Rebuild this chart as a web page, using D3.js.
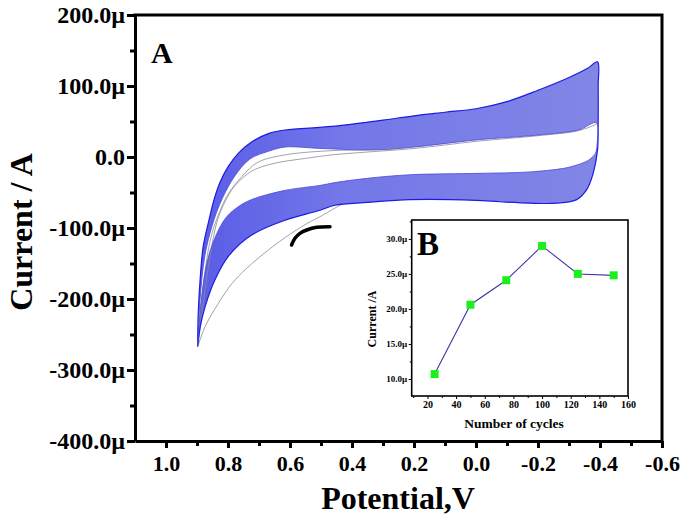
<!DOCTYPE html>
<html><head><meta charset="utf-8">
<script src="https://cdn.jsdelivr.net/npm/d3@7"></script>
<style>
body{margin:0;background:#fff}
svg{display:block}
text{font-family:"Liberation Serif","Times New Roman",serif;font-weight:bold;fill:#000}
</style>
</head><body>
<svg id="c" width="685" height="522"></svg>
<script>
// ---------- Main CV chart data (Potential V, Current µA) ----------
const potentialTicks = [1.0, 0.8, 0.6, 0.4, 0.2, 0.0, -0.2, -0.4, -0.6];
const potentialMinor = [0.9, 0.7, 0.5, 0.3, 0.1, -0.1, -0.3, -0.5];
const potentialLabels = ["1.0","0.8","0.6","0.4","0.2","0.0","-0.2","-0.4","-0.6"];
const currentTicks = [200, 100, 0, -100, -200, -300, -400];
const currentMinor = [150, 50, -50, -150, -250, -350];
const currentLabels = ["200.0\u00b5","100.0\u00b5","0.0","-100.0\u00b5","-200.0\u00b5","-300.0\u00b5","-400.0\u00b5"];

// last (largest) cycle: forward branch from 0.9 V to -0.4 V
const outerUpper = [[0.898,-267],[0.896,-220],[0.89,-173],[0.88,-126],[0.862,-90],[0.845,-60],[0.825,-35],[0.8,-14],[0.767,5],[0.724,21],[0.67,33],[0.616,38],[0.465,43],[0.3,52],[0.2,58],[0.1,63],[0,68],[-0.1,78],[-0.2,94],[-0.3,112],[-0.36,125],[-0.392,134]];
// last cycle: reverse branch back to 0.9 V
const outerLower = [[-0.392,134],[-0.394,100],[-0.394,50],[-0.392,10],[-0.378,-23],[-0.357,-46],[-0.325,-60],[-0.26,-65],[-0.174,-65],[-0.077,-63],[0,-61],[0.213,-60],[0.35,-64],[0.455,-68],[0.503,-75],[0.616,-89],[0.724,-110],[0.799,-140],[0.842,-173],[0.874,-211],[0.89,-240],[0.898,-267]];
// earliest blue cycle
const innerUpper = [[0.898,-267],[0.89,-200],[0.875,-140],[0.85,-95],[0.82,-60],[0.78,-28],[0.73,-3],[0.67,8],[0.616,14],[0.5,12],[0.32,10],[0.2,14],[0,24],[-0.2,31],[-0.33,38],[-0.388,48]];
const innerLower = [[-0.388,48],[-0.391,20],[-0.385,5],[-0.37,-2],[-0.357,-6],[-0.32,-12],[-0.282,-16],[-0.174,-21],[-0.013,-23],[0.213,-25],[0.35,-30],[0.455,-36],[0.503,-40],[0.616,-47],[0.724,-60],[0.767,-70],[0.804,-84],[0.831,-103],[0.863,-140],[0.885,-197],[0.898,-267]];
// first cycles (grey)
const firstScan = [[0.43,-66],[0.455,-72],[0.503,-84],[0.562,-98],[0.67,-131],[0.777,-173],[0.831,-206],[0.874,-239],[0.896,-265]];
const greyUpper1 = [[0.896,-265],[0.875,-190],[0.85,-120],[0.831,-85],[0.8,-55],[0.777,-40],[0.724,-20],[0.67,-11],[0.616,-6],[0.55,-2],[0.465,3],[0.35,7],[0.2,12],[0,22],[-0.2,30],[-0.33,37],[-0.388,46]];
const greyUpper2 = [[0.897,-266],[0.88,-180],[0.853,-110],[0.82,-70],[0.799,-52],[0.75,-25],[0.702,-7],[0.616,3],[0.465,9],[0.35,10],[0.25,13]];
const arrowPath = [[0.471,-98.2],[0.514,-99],[0.546,-102.8],[0.568,-107.5],[0.584,-114.5],[0.595,-124]];

// ---------- Inset data ----------
const cycles = [25, 50, 75, 100, 125, 150];
const peakCurrent = [10.7, 20.6, 24.1, 29.0, 25.0, 24.8];
const cycleTicks = [20, 40, 60, 80, 100, 120, 140, 160];
const cycleMinor = [10, 30, 50, 70, 90, 110, 130, 150];
const insetYTicks = [10, 15, 20, 25, 30];
const insetYMinor = [12.5, 17.5, 22.5, 27.5, 32.5];
const insetYLabels = ["10.0\u00b5","15.0\u00b5","20.0\u00b5","25.0\u00b5","30.0\u00b5"];

const svg = d3.select("#c");
const defs = svg.append("defs");
const grad = defs.append("linearGradient").attr("id", "bandGrad").attr("gradientUnits", "userSpaceOnUse")
  .attr("x1", 200).attr("y1", 0).attr("x2", 600).attr("y2", 0);
grad.append("stop").attr("offset", 0).attr("stop-color", "#5a5de6");
grad.append("stop").attr("offset", 0.35).attr("stop-color", "#7377e8");
grad.append("stop").attr("offset", 1).attr("stop-color", "#8286e6");

// ---------- main scales ----------
const x = d3.scaleLinear().domain([1.1, -0.6]).range([135, 662]);
const y = d3.scaleLinear().domain([-400, 200]).range([441, 15]);
const line = d3.line().x(d => x(d[0])).y(d => y(d[1])).curve(d3.curveCatmullRom.alpha(0.5));

const outerLoop = outerUpper.concat(outerLower.slice(1));
const innerLoop = innerUpper.concat(innerLower.slice(1));

const g = svg.append("g");
g.append("path").attr("d", line(outerLoop) + "Z" + line(innerLoop) + "Z")
  .attr("fill", "url(#bandGrad)").attr("fill-rule", "evenodd").attr("stroke", "none");
[greyUpper1, greyUpper2, firstScan].forEach(c => {
  g.append("path").attr("d", line(c)).attr("fill", "none").attr("stroke", "#8a8a9a").attr("stroke-width", 0.8);
});
g.append("path").attr("d", line(outerLoop)).attr("fill", "none").attr("stroke", "#1c1ce0").attr("stroke-width", 1.2);
g.append("path").attr("d", line(innerLoop)).attr("fill", "none").attr("stroke", "#4a4ad8").attr("stroke-width", 0.8);
g.append("path").attr("d", line(arrowPath)).attr("fill", "none").attr("stroke", "#000")
  .attr("stroke-width", 3.5).attr("stroke-linecap", "round");

// ---------- main axes ----------
const yAxis = d3.axisLeft(y).tickValues(currentTicks).tickSize(8).tickSizeOuter(0).tickPadding(2)
  .tickFormat((d, i) => currentLabels[i]);
const ya = svg.append("g").attr("transform", "translate(135,0)").call(yAxis);
ya.selectAll(".tick line").attr("stroke-width", 3);
ya.select(".domain").attr("stroke-width", 3);
ya.selectAll("text").style("font-size", "24px");
svg.append("g").attr("transform", "translate(135,0)")
  .call(d3.axisLeft(y).tickValues(currentMinor).tickSize(5).tickFormat(""))
  .call(s => { s.select(".domain").remove(); s.selectAll("line").attr("stroke-width", 3); });

const xAxis = d3.axisBottom(x).tickValues(potentialTicks).tickSize(7).tickSizeOuter(0).tickPadding(7)
  .tickFormat((d, i) => potentialLabels[i]);
const xa = svg.append("g").attr("transform", "translate(0,441)").call(xAxis);
xa.selectAll(".tick line").attr("stroke-width", 3);
xa.select(".domain").attr("stroke-width", 3);
xa.selectAll("text").style("font-size", "22px");
svg.append("g").attr("transform", "translate(0,441)")
  .call(d3.axisBottom(x).tickValues(potentialMinor).tickSize(5).tickFormat(""))
  .call(s => { s.select(".domain").remove(); s.selectAll("line").attr("stroke-width", 3); });

// top / right frame
svg.append("path").attr("d", `M${x.range()[0]},${y.range()[1]}H${x.range()[1]}V${y.range()[0]}`)
  .attr("fill", "none").attr("stroke", "#000").attr("stroke-width", 3).attr("stroke-linecap", "square");

svg.append("text").attr("x", 398).attr("y", 509).attr("text-anchor", "middle")
  .style("font-size", "32px").text("Potential,V");
svg.append("text").attr("transform", "translate(32,232) rotate(-90)").attr("text-anchor", "middle")
  .style("font-size", "32px").text("Current / A");
svg.append("text").attr("x", 151).attr("y", 63).style("font-size", "30px").text("A");

// ---------- inset ----------
const ix = d3.scaleLinear().domain([9, 160]).range([411.7, 628]);
const iy = d3.scaleLinear().domain([7.57, 32.7]).range([396, 220]);
const inset = svg.append("g");
inset.append("rect").attr("x", 411.7).attr("y", 220).attr("width", 628 - 411.7).attr("height", 176)
  .attr("fill", "#fff").attr("stroke", "#000").attr("stroke-width", 1.6);

const iyAxis = inset.append("g").attr("transform", "translate(411.7,0)")
  .call(d3.axisLeft(iy).tickValues(insetYTicks).tickSize(3).tickSizeOuter(0).tickPadding(1.5).tickFormat((d, i) => insetYLabels[i]));
iyAxis.select(".domain").remove();
iyAxis.selectAll("text").style("font-size", "9px");
inset.append("g").attr("transform", "translate(411.7,0)")
  .call(d3.axisLeft(iy).tickValues(insetYMinor).tickSize(2).tickFormat(""))
  .call(s => s.select(".domain").remove());

const ixAxis = inset.append("g").attr("transform", "translate(0,396)")
  .call(d3.axisBottom(ix).tickValues(cycleTicks).tickSize(3).tickSizeOuter(0).tickPadding(2));
ixAxis.select(".domain").remove();
ixAxis.selectAll("text").style("font-size", "10px");
inset.append("g").attr("transform", "translate(0,396)")
  .call(d3.axisBottom(ix).tickValues(cycleMinor).tickSize(2).tickFormat(""))
  .call(s => s.select(".domain").remove());

const pts = cycles.map((c, i) => [c, peakCurrent[i]]);
inset.append("path").attr("d", d3.line().x(d => ix(d[0])).y(d => iy(d[1]))(pts))
  .attr("fill", "none").attr("stroke", "#3a3aa6").attr("stroke-width", 1.1);
inset.selectAll("rect.pt").data(pts).join("rect").attr("class", "pt")
  .attr("x", d => ix(d[0]) - 4).attr("y", d => iy(d[1]) - 4).attr("width", 8).attr("height", 8)
  .attr("fill", "#1cf01c");

inset.append("text").attr("x", 514).attr("y", 428).attr("text-anchor", "middle")
  .style("font-size", "13.5px").text("Number of cycles");
inset.append("text").attr("transform", "translate(375.5,319) rotate(-90)").attr("text-anchor", "middle")
  .style("font-size", "12px").text("Current /A");
inset.append("text").attr("x", 417).attr("y", 255).style("font-size", "33px").text("B");
</script>
</body></html>
